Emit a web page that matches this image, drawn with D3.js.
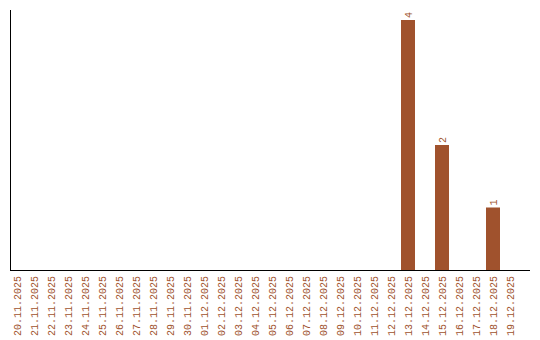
<!DOCTYPE html>
<html>
<head>
<meta charset="utf-8">
<script src="https://cdn.jsdelivr.net/npm/d3@7"></script>
<style>
  body { margin: 0; background: #fff; }
  text { font-family: "Liberation Mono", monospace; font-size: 10px; fill: #a0522d; }
</style>
</head>
<body>
<svg id="chart" width="540" height="340"></svg>
<script>
// dates on the x axis
var dates = ["20.11.2025","21.11.2025","22.11.2025","23.11.2025","24.11.2025","25.11.2025",
  "26.11.2025","27.11.2025","28.11.2025","29.11.2025","30.11.2025","01.12.2025","02.12.2025",
  "03.12.2025","04.12.2025","05.12.2025","06.12.2025","07.12.2025","08.12.2025","09.12.2025",
  "10.12.2025","11.12.2025","12.12.2025","13.12.2025","14.12.2025","15.12.2025","16.12.2025",
  "17.12.2025","18.12.2025","19.12.2025"];
// count per day
var counts = [0,0,0,0,0,0,0,0,0,0,0,0,0,0,0,0,0,0,0,0,0,0,0,4,0,2,0,0,1,0];

var svg = d3.select("#chart");
var mLeft = 10, mBottom = 270, mTop = 10;

var x = d3.scaleBand().domain(dates).range([mLeft, 517]).paddingInner(3 / 17).paddingOuter(0);
var y = d3.scaleLinear().domain([0, d3.max(counts) * 1.04]).range([mBottom, mTop]);

// bars
svg.selectAll(".bar")
  .data(dates)
  .enter().append("rect")
  .attr("class", "bar")
  .attr("x", function(d) { return x(d); })
  .attr("y", function(d, i) { return y(counts[i]); })
  .attr("width", x.bandwidth())
  .attr("height", function(d, i) { return mBottom - y(counts[i]); })
  .attr("fill", "#a0522d");

// value labels on top of bars
svg.selectAll(".val")
  .data(dates.filter(function(d, i) { return counts[i] > 0; }))
  .enter().append("text")
  .attr("class", "val")
  .attr("transform", function(d) {
    var v = counts[dates.indexOf(d)];
    return "translate(" + (x(d) + x.bandwidth() / 2 + 3.5) + "," + (y(v) - 2) + ") rotate(-90)";
  })
  .attr("text-anchor", "start")
  .text(function(d) { return counts[dates.indexOf(d)]; });

// x tick labels
svg.selectAll(".tick-label")
  .data(dates)
  .enter().append("text")
  .attr("class", "tick-label")
  .attr("transform", function(d) {
    return "translate(" + (x(d) + x.bandwidth() / 2 + 3.5) + "," + (mBottom + 6) + ") rotate(-90)";
  })
  .attr("text-anchor", "end")
  .text(function(d) { return d; });

// axis lines
svg.append("line")
  .attr("x1", mLeft + 0.5).attr("x2", mLeft + 0.5)
  .attr("y1", mTop).attr("y2", mBottom)
  .attr("stroke", "#000");
svg.append("line")
  .attr("x1", mLeft).attr("x2", 530)
  .attr("y1", mBottom + 0.5).attr("y2", mBottom + 0.5)
  .attr("stroke", "#000");
</script>
</body>
</html>
